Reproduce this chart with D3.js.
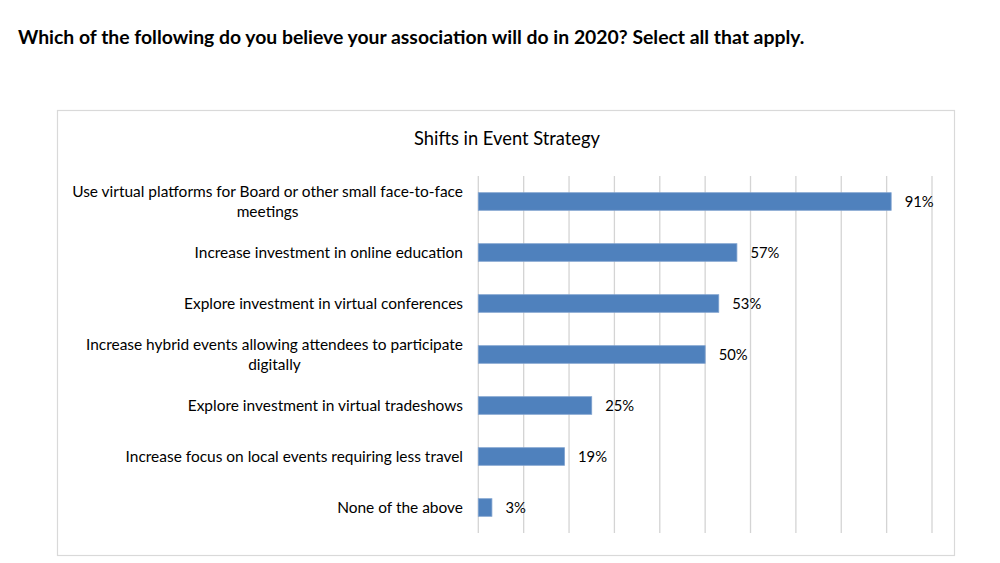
<!DOCTYPE html>
<html>
<head>
<meta charset="utf-8">
<script src="https://cdn.jsdelivr.net/npm/d3@7"></script>
<style>
  html, body { margin: 0; padding: 0; background: #fff; }
  svg { display: block; }
  text { font-family: Lato, "Open Sans", sans-serif; fill: #000; }
</style>
</head>
<body>
<svg id="chart" width="1000" height="563"></svg>
<script>
// ---- data ----
const categories = [
  "Use virtual platforms for Board or other small face-to-face\nmeetings",
  "Increase investment in online education",
  "Explore investment in virtual conferences",
  "Increase hybrid events allowing attendees to participate\ndigitally",
  "Explore investment in virtual tradeshows",
  "Increase focus on local events requiring less travel",
  "None of the above"
];
const values = [91, 57, 53, 50, 25, 19, 3];
const gridTicks = [0, 10, 20, 30, 40, 50, 60, 70, 80, 90, 100];
const pageTitle = "Which of the following do you believe your association will do in 2020? Select all that apply.";
const chartTitle = "Shifts in Event Strategy";

// ---- layout ----
const svg = d3.select("#chart");
const plot = { left: 478.3, right: 932, top: 176, bottom: 533 };

// page title
const t1 = svg.append("text")
  .attr("x", 18).attr("y", 44)
  .style("font-weight", "bold")
  .style("font-size", "17px")
  .text(pageTitle);
const w1 = t1.node().getComputedTextLength();
t1.style("font-size", (17 * 787 / w1).toFixed(2) + "px");

// chart frame
svg.append("rect")
  .attr("x", 57.5).attr("y", 110.5)
  .attr("width", 897).attr("height", 445)
  .attr("fill", "#fff")
  .attr("stroke", "#d9d9d9").attr("stroke-width", 1.2);

// chart title
const t2 = svg.append("text")
  .attr("x", 507).attr("y", 145)
  .attr("text-anchor", "middle")
  .style("font-size", "17px")
  .text(chartTitle);
const w2 = t2.node().getComputedTextLength();
t2.style("font-size", (17 * 186 / w2).toFixed(2) + "px");

const x = d3.scaleLinear().domain([0, 100]).range([plot.left, plot.right]);
const y = d3.scaleBand().domain(d3.range(categories.length))
  .range([plot.top, plot.bottom]).paddingInner(0.655).paddingOuter(0.3275);

// gridlines
svg.append("g").selectAll("line").data(gridTicks).join("line")
  .attr("x1", d => x(d)).attr("x2", d => x(d))
  .attr("y1", plot.top).attr("y2", plot.bottom)
  .attr("stroke", "#d4d4d4").attr("stroke-width", 1.3);

// bars
svg.append("g").selectAll("rect").data(values).join("rect")
  .attr("x", x(0))
  .attr("y", (d, i) => y(i))
  .attr("width", d => x(d) - x(0))
  .attr("height", y.bandwidth())
  .attr("fill", "#4f81bd")
  .attr("stroke", "#7ea1cf").attr("stroke-width", 0.8);

// value labels (size fitted so "57%" spans ~29px)
const vprobe = svg.append("text").style("font-size", "14px").text("57%");
const vSize = 14 * 29 / vprobe.node().getComputedTextLength();
vprobe.remove();
svg.append("g").selectAll("text").data(values).join("text")
  .attr("x", d => x(d) + 13.5)
  .attr("y", (d, i) => y(i) + y.bandwidth() / 2 + vSize * 0.36)
  .style("font-size", vSize.toFixed(2) + "px")
  .text(d => d + "%");

// category labels
const labelRight = 463;
const lg = svg.append("g");
const baseSize = 14;
const probe = lg.append("text").style("font-size", baseSize + "px")
  .text("Use virtual platforms for Board or other small face-to-face");
const pw = probe.node().getComputedTextLength();
probe.remove();
const labelSize = baseSize * 391 / pw;

categories.forEach((c, i) => {
  const lines = c.split("\n");
  const cy = y(i) + y.bandwidth() / 2;
  const lh = 20.5;
  const g = lg.append("g");
  const texts = lines.map((ln, k) => g.append("text")
    .style("font-size", labelSize.toFixed(2) + "px")
    .attr("text-anchor", "middle")
    .attr("y", cy + (k - (lines.length - 1) / 2) * lh + labelSize * 0.36)
    .text(ln));
  const maxW = d3.max(texts, t => t.node().getComputedTextLength());
  texts.forEach(t => t.attr("x", labelRight - maxW / 2));
});
</script>
</body>
</html>
